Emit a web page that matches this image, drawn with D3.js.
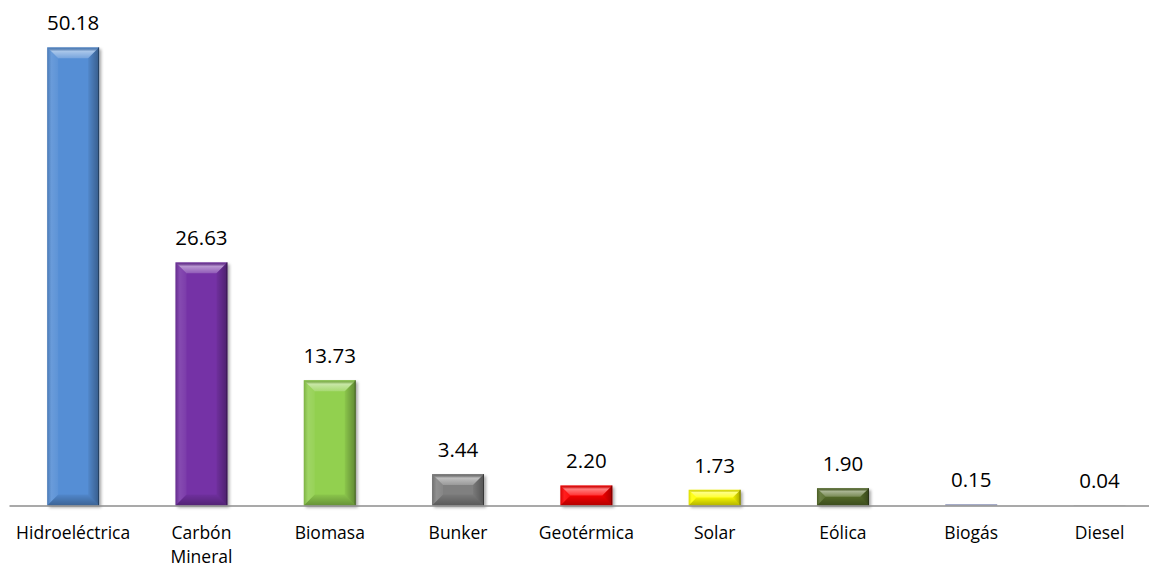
<!DOCTYPE html>
<html>
<head>
<meta charset="utf-8">
<script src="https://cdn.jsdelivr.net/npm/d3@7"></script>
<style>
  body { margin: 0; background: #fff; }
  svg { display: block; }
  text { font-family: "Open Sans", "Noto Sans", sans-serif; fill: #000; }
</style>
</head>
<body>
<div id="chart"></div>
<script>
// Data
const categories = ["Hidroeléctrica", "Carbón Mineral", "Biomasa", "Bunker", "Geotérmica", "Solar", "Eólica", "Biogás", "Diesel"];
const values = [50.18, 26.63, 13.73, 3.44, 2.20, 1.73, 1.90, 0.15, 0.04];
const barColors = ["#558ed5", "#7433a6", "#92d050", "#808080", "#ff0000", "#ffff00", "#566d2c", "#9aa0c0", "#c0c0c0"];

const width = 1149;
const height = 568;
const baseline = 505.5;

const svg = d3.select("#chart")
    .append("svg")
    .attr("width", width)
    .attr("height", height);

const defs = svg.append("defs");

// soft shadow like the office chart
const shadow = defs.append("filter")
    .attr("id", "shadow")
    .attr("x", "-20%").attr("y", "-20%")
    .attr("width", "150%").attr("height", "150%");
shadow.append("feDropShadow")
    .attr("dx", 2).attr("dy", 2)
    .attr("stdDeviation", 1.6)
    .attr("flood-color", "#000")
    .attr("flood-opacity", 0.35);

// overlay gradients used for the bevel
function grad(id, vertical, stops) {
    const g = defs.append("linearGradient")
        .attr("id", id)
        .attr("x1", 0).attr("y1", 0)
        .attr("x2", vertical ? 0 : 1).attr("y2", vertical ? 1 : 0);
    stops.forEach(s => g.append("stop")
        .attr("offset", s[0])
        .attr("stop-color", s[1])
        .attr("stop-opacity", s[2]));
}
grad("bevTop", true, [[0, "#000", 0.08], [0.35, "#fff", 0.5], [1, "#fff", 0.2]]);
grad("bevBottom", true, [[0, "#000", 0.05], [1, "#000", 0.3]]);
grad("bevLeft", false, [[0, "#000", 0.15], [0.4, "#fff", 0.12], [1, "#fff", 0.05]]);
grad("bevRight", false, [[0, "#000", 0.05], [1, "#000", 0.35]]);

// Scales
const x = d3.scaleBand()
    .domain(categories)
    .range([9, 1163.7])
    .paddingInner(0.595)
    .paddingOuter(0.2975);

const y = d3.scaleLinear()
    .domain([0, 50.18])
    .range([baseline, 47.3]);

// Bars
const bars = svg.selectAll(".bar")
    .data(categories.map((c, i) => ({ cat: c, value: values[i], color: barColors[i] })))
    .enter()
    .append("g")
    .attr("class", "bar");

bars.each(function(d) {
    const g = d3.select(this);
    const x0 = x(d.cat);
    const x1 = x0 + x.bandwidth();
    const y0 = y(d.value);
    const y1 = y(0);
    const h = y1 - y0;
    const b = Math.min(11, h / 2, x.bandwidth() / 2);

    g.append("rect")
        .attr("x", x0)
        .attr("y", y0)
        .attr("width", x.bandwidth())
        .attr("height", h)
        .attr("fill", d.color)
        .attr("filter", h > 3 ? "url(#shadow)" : null);

    if (h < 3) return;

    const pts = p => p.map(q => q.join(",")).join(" ");
    g.append("polygon")
        .attr("points", pts([[x0, y0], [x1, y0], [x1 - b, y0 + b], [x0 + b, y0 + b]]))
        .attr("fill", "url(#bevTop)");
    g.append("polygon")
        .attr("points", pts([[x0, y1], [x1, y1], [x1 - b, y1 - b], [x0 + b, y1 - b]]))
        .attr("fill", "url(#bevBottom)");
    g.append("polygon")
        .attr("points", pts([[x0, y0], [x0 + b, y0 + b], [x0 + b, y1 - b], [x0, y1]]))
        .attr("fill", "url(#bevLeft)");
    g.append("polygon")
        .attr("points", pts([[x1, y0], [x1 - b, y0 + b], [x1 - b, y1 - b], [x1, y1]]))
        .attr("fill", "url(#bevRight)");

    // thin dark edge on the right
    g.append("line")
        .attr("x1", x1 - 0.5).attr("x2", x1 - 0.5)
        .attr("y1", y0).attr("y2", y1)
        .attr("stroke", "#000")
        .attr("stroke-opacity", 0.35);
});

// Value labels
svg.selectAll(".value")
    .data(values)
    .enter()
    .append("text")
    .attr("class", "value")
    .attr("x", (d, i) => x(categories[i]) + x.bandwidth() / 2)
    .attr("y", d => y(d) - 17)
    .attr("text-anchor", "middle")
    .style("font-size", "20.5px")
    .text(d => d3.format(".2f")(d));

// X axis
const xAxis = svg.append("g")
    .attr("transform", `translate(0,${baseline})`)
    .call(d3.axisBottom(x).tickSize(0).tickSizeOuter(0));

xAxis.select(".domain")
    .attr("stroke", "#8c8c8c")
    .attr("stroke-width", 1.6);

xAxis.selectAll(".tick text").remove();

xAxis.selectAll(".tick").each(function(d) {
    const t = d3.select(this).append("text")
        .attr("text-anchor", "middle")
        .style("font-size", "17.5px")
        .attr("y", 33);
    if (d === "Carbón Mineral") {
        d.split(" ").forEach((w, i) => t.append("tspan").attr("x", 0).attr("dy", i ? 24 : 0).text(w));
    } else {
        t.text(d);
    }
});
</script>
</body>
</html>
